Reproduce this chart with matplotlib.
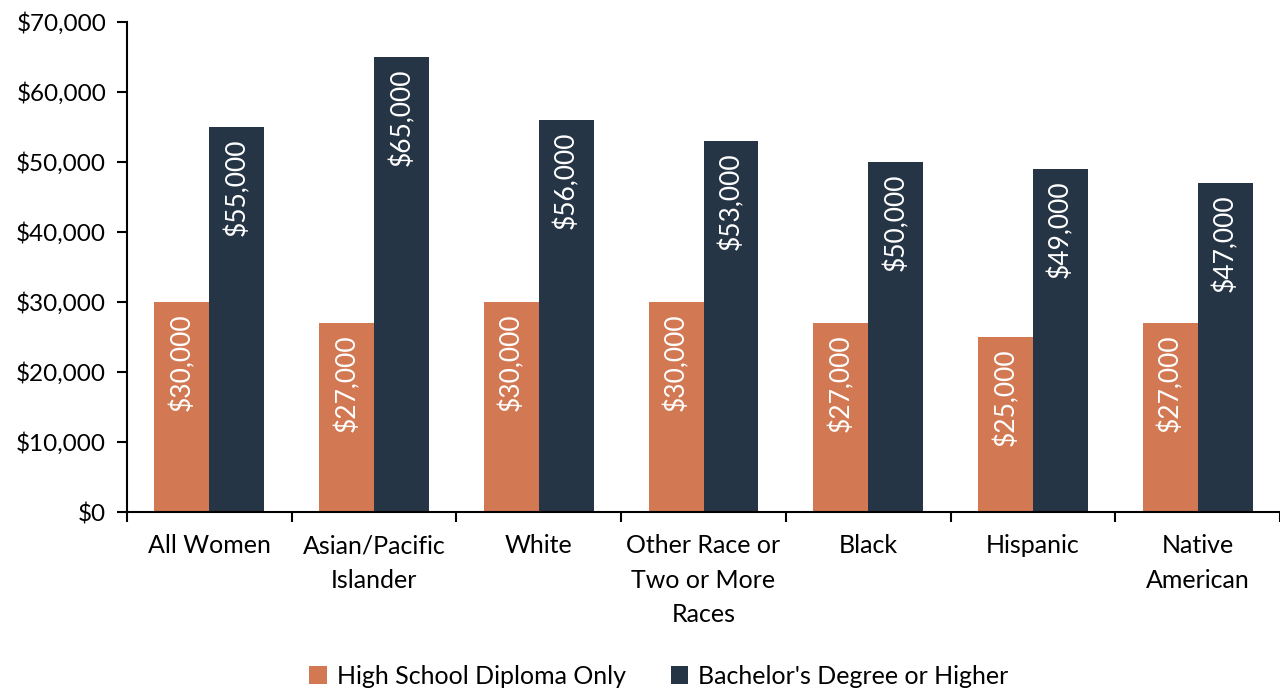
import matplotlib
matplotlib.use("Agg")
import matplotlib.pyplot as plt
import numpy as np
from matplotlib.ticker import FuncFormatter, FixedLocator

categories = ["All Women", "Asian/Pacific\nIslander", "White",
              "Other Race or\nTwo or More\nRaces", "Black", "Hispanic",
              "Native\nAmerican"]
high_school = [30000, 27000, 30000, 30000, 27000, 25000, 27000]
bachelors = [55000, 65000, 56000, 53000, 50000, 49000, 47000]
series_names = ["High School Diploma Only", "Bachelor's Degree or Higher"]
colors = ["#D27853", "#263545"]

plt.rcParams["font.family"] = ["Lato", "DejaVu Sans"]

fig = plt.figure(figsize=(12.8, 6.92), dpi=100)
ax = fig.add_axes([127 / 1280, 180 / 692, 1153 / 1280, 490 / 692])

x = np.arange(len(categories))
w = 1 / 3
b1 = ax.bar(x - w / 2, high_school, w, color=colors[0], label=series_names[0])
b2 = ax.bar(x + w / 2, bachelors, w, color=colors[1], label=series_names[1])

for bars, vals in ((b1, high_school), (b2, bachelors)):
    for rect, v in zip(bars, vals):
        ax.annotate(f"${v:,.0f}", (rect.get_x() + rect.get_width() / 2, v),
                    xytext=(0, -8), textcoords="offset points",
                    rotation=90, ha="center", va="top", color="white",
                    fontsize=19)

ax.set_xlim(-0.5, len(categories) - 0.5)
ax.set_ylim(0, 70000)
ax.yaxis.set_major_locator(FixedLocator(np.arange(0, 70001, 10000)))
ax.yaxis.set_major_formatter(FuncFormatter(lambda v, p: f"${v:,.0f}"))
ax.set_xticks(x)
ax.set_xticklabels(categories, linespacing=1.6)
ax.xaxis.set_minor_locator(FixedLocator(np.arange(-0.5, len(categories), 1)))
ax.tick_params(axis="x", which="major", length=0, pad=16, labelsize=18)
ax.tick_params(axis="x", which="minor", length=7, width=1.5, direction="out")
ax.tick_params(axis="y", length=7, width=1.5, direction="out", labelsize=17.5, pad=8)

for s in ("top", "right"):
    ax.spines[s].set_visible(False)
for s in ("left", "bottom"):
    ax.spines[s].set_linewidth(1.5)

fig.legend(handles=[b1, b2], labels=series_names, loc="center",
           bbox_to_anchor=(659 / 1280, 1 - 676 / 692), ncol=2, frameon=False,
           fontsize=18, handlelength=0.7, handleheight=0.7, handletextpad=0.4,
           columnspacing=1.8)

fig.savefig("out.png", dpi=100)
